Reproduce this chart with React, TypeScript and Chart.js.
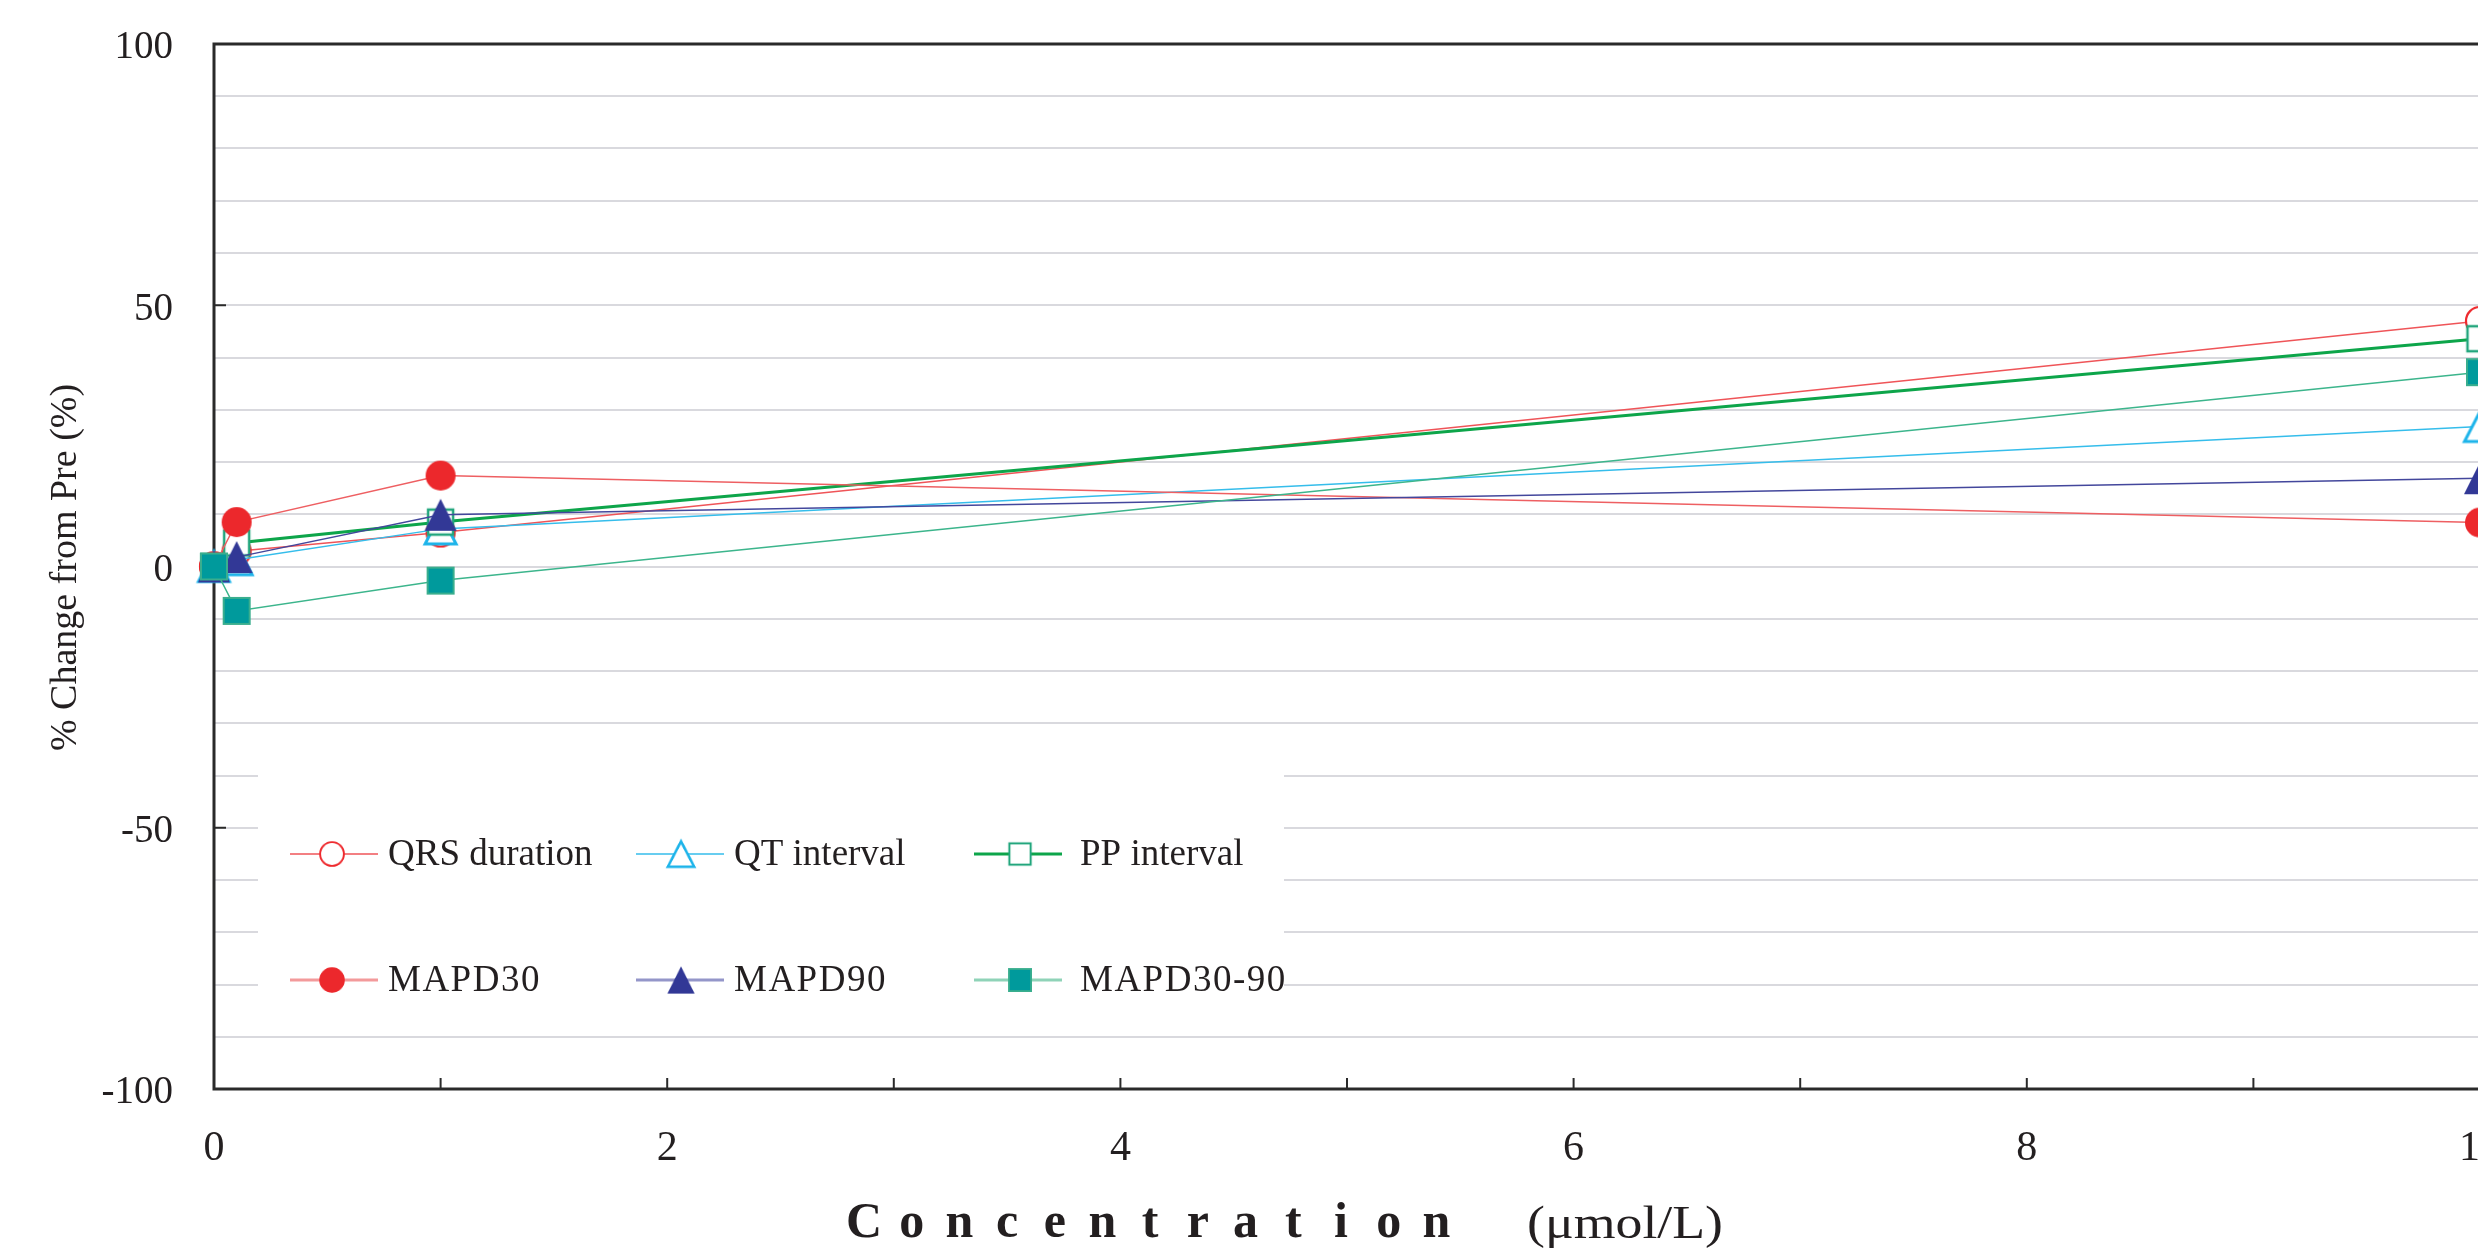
import { useEffect, useRef } from 'react';
import { Chart, registerables } from 'chart.js';

Chart.register(...registerables);

// ---------------- data ----------------
const concentrations = [0, 0.1, 1, 10];
const qrsDuration = [0, 2.9, 6.5, 47.0];
const qtInterval = [0, 1.3, 7.2, 26.8];
const ppInterval = [0, 4.5, 8.5, 43.6];
const mapd30 = [0, 8.5, 17.4, 8.4];
const mapd90 = [0, 1.8, 9.9, 16.9];
const mapd30to90 = [0, -8.5, -2.7, 37.2];

const seriesNames = ['QRS duration', 'QT interval', 'PP interval', 'MAPD30', 'MAPD90', 'MAPD30-90'];
const seriesValues = [qrsDuration, qtInterval, ppInterval, mapd30, mapd90, mapd30to90];

const xLabelValues = [0, 2, 4, 6, 8, 10];
const xMinorTickValues = [1, 2, 3, 4, 5, 6, 7, 8, 9];
const yLabelValues = [-100, -50, 0, 50, 100];

const xTitleWord = 'Concentration';
const xTitleUnit = '(\u03BCmol/L)';
const yTitle = '% Change from Pre (%)';

// ---------------- styles ----------------
const FONT = "'Liberation Serif', 'Times New Roman', serif";
const TEXT = '#231F20';
const W = 2478; // visible width
const CW = 2490; // canvas width (right part beyond the window is clipped, as in the reference)
const H = 1244;

type Style = {
  line: string; lw: number; legLine: string; legLw: number;
  shape: 'circle' | 'triangle' | 'square'; fill: string; stroke: string; sw: number; w: number; h: number;
};

const styles: Style[] = [
  { line: '#EF5458', lw: 1.5, legLine: '#EF5458', legLw: 1.6, shape: 'circle', fill: '#ffffff', stroke: '#EE2A2E', sw: 2.2, w: 28, h: 28 },
  { line: '#35BDEB', lw: 1.5, legLine: '#35BDEB', legLw: 1.6, shape: 'triangle', fill: '#ffffff', stroke: '#1DB4EA', sw: 3, w: 31, h: 30 },
  { line: '#0DA54A', lw: 3, legLine: '#0DA54A', legLw: 3, shape: 'square', fill: '#ffffff', stroke: '#23A67D', sw: 2.5, w: 25, h: 25 },
  { line: '#EE5F62', lw: 1.5, legLine: '#F39A9B', legLw: 3, shape: 'circle', fill: '#EC282C', stroke: '#EC282C', sw: 0, w: 30, h: 30 },
  { line: '#43479C', lw: 1.5, legLine: '#9496C9', legLw: 3, shape: 'triangle', fill: '#323896', stroke: '#323896', sw: 0, w: 32, h: 32 },
  { line: '#3CB58C', lw: 1.5, legLine: '#8FD3B8', legLw: 3, shape: 'square', fill: '#009A9C', stroke: '#3AAE8E', sw: 2, w: 26, h: 26 },
];

function makeMarker(s: Style): HTMLCanvasElement {
  const pad = Math.ceil(s.sw) + 2;
  const c = document.createElement('canvas');
  c.width = s.w + pad * 2;
  c.height = s.h + pad * 2;
  const g = c.getContext('2d')!;
  const cx = c.width / 2;
  const cy = c.height / 2;
  g.beginPath();
  if (s.shape === 'circle') {
    g.arc(cx, cy, s.w / 2, 0, Math.PI * 2);
  } else if (s.shape === 'square') {
    g.rect(cx - s.w / 2, cy - s.h / 2, s.w, s.h);
  } else {
    g.moveTo(cx, cy - s.h / 2);
    g.lineTo(cx + s.w / 2, cy + s.h / 2);
    g.lineTo(cx - s.w / 2, cy + s.h / 2);
    g.closePath();
  }
  g.fillStyle = s.fill;
  g.fill();
  if (s.sw > 0) {
    g.strokeStyle = s.stroke;
    g.lineWidth = s.sw;
    g.lineJoin = 'miter';
    g.stroke();
  }
  return c;
}

// legend layout (canvas px)
const legendBox = { x: 250, y: 757, w: 1026, h: 262 };
const legendRows = [846, 972];
const legendCols = [
  { l0: 282, l1: 370, m: 324, t: 380 },
  { l0: 628, l1: 716, m: 673, t: 726 },
  { l0: 966, l1: 1054, m: 1012, t: 1072 },
];

export default function App() {
  const ref = useRef<HTMLCanvasElement>(null);

  useEffect(() => {
    document.body.style.overflow = 'hidden';
    const markers = styles.map(makeMarker);

    const framePlugin = {
      id: 'frame',
      beforeDatasetsDraw(chart: any) {
        const { ctx, chartArea: a, scales } = chart;
        ctx.save();
        ctx.strokeStyle = '#2A2A2A';
        ctx.lineWidth = 3;
        ctx.strokeRect(a.left, a.top, a.right - a.left, a.bottom - a.top);
        ctx.lineWidth = 2;
        for (const v of yLabelValues) {
          const y = scales.y.getPixelForValue(v);
          ctx.beginPath();
          ctx.moveTo(a.left, y);
          ctx.lineTo(a.left + 12, y);
          ctx.stroke();
        }
        for (const v of xMinorTickValues) {
          const x = scales.x.getPixelForValue(v);
          ctx.beginPath();
          ctx.moveTo(x, a.bottom);
          ctx.lineTo(x, a.bottom - 11);
          ctx.stroke();
        }
        ctx.restore();
      },
    };

    const legendPlugin = {
      id: 'customLegend',
      afterDatasetsDraw(chart: any) {
        const { ctx } = chart;
        ctx.save();
        ctx.fillStyle = '#ffffff';
        ctx.fillRect(legendBox.x, legendBox.y, legendBox.w, legendBox.h);
        seriesNames.forEach((name, i) => {
          const row = legendRows[Math.floor(i / 3)];
          const col = legendCols[i % 3];
          const s = styles[i];
          ctx.strokeStyle = s.legLine;
          ctx.lineWidth = s.legLw;
          ctx.beginPath();
          ctx.moveTo(col.l0, row);
          ctx.lineTo(col.l1, row);
          ctx.stroke();
          const m = markers[i];
          const k = 0.85;
          ctx.drawImage(m, col.m - (m.width * k) / 2, row - (m.height * k) / 2, m.width * k, m.height * k);
          ctx.fillStyle = TEXT;
          ctx.font = `37px ${FONT}`;
          ctx.textAlign = 'left';
          ctx.textBaseline = 'middle';
          (ctx as any).letterSpacing = i >= 3 ? '1.5px' : '0px';
          ctx.fillText(name, col.t, row + 1);
        });
        (ctx as any).letterSpacing = '0px';
        ctx.restore();
      },
    };

    const titlePlugin = {
      id: 'axisTitles',
      afterDraw(chart: any) {
        const { ctx, chartArea: a } = chart;
        ctx.save();
        ctx.fillStyle = TEXT;
        // y title
        ctx.translate(58, (a.top + a.bottom) / 2 + 1);
        ctx.rotate(-Math.PI / 2);
        ctx.font = `38px ${FONT}`;
        ctx.textAlign = 'center';
        ctx.textBaseline = 'middle';
        ctx.fillText(yTitle, 0, 0);
        ctx.restore();

        // x title
        ctx.save();
        ctx.fillStyle = TEXT;
        ctx.font = `bold 50px ${FONT}`;
        ctx.textAlign = 'center';
        ctx.textBaseline = 'alphabetic';
        const start = 856;
        const step = 47.7;
        xTitleWord.split('').forEach((ch, i) => {
          ctx.fillText(ch, start + i * step, 1229);
        });
        ctx.font = `46px ${FONT}`;
        ctx.textAlign = 'left';
        const target = 196;
        const mw = ctx.measureText(xTitleUnit).width;
        ctx.translate(1519, 1230);
        ctx.scale(target / mw, 1);
        ctx.fillText(xTitleUnit, 0, 0);
        ctx.restore();
      },
    };

    const datasets = seriesNames.map((name, i) => ({
      label: name,
      data: concentrations.map((x, j) => ({ x, y: seriesValues[i][j] })),
      borderColor: styles[i].line,
      borderWidth: styles[i].lw,
      backgroundColor: styles[i].fill,
      pointStyle: markers[i],
      pointRadius: 15,
      pointHoverRadius: 15,
      tension: 0,
      clip: false as any,
      order: 6 - i,
    }));

    const chart = new Chart(ref.current!, {
      type: 'line',
      data: { datasets },
      plugins: [framePlugin, legendPlugin, titlePlugin],
      options: {
        animation: false,
        responsive: false,
        devicePixelRatio: 1,
        events: [],
        layout: { padding: { top: 36, right: 6, left: 0, bottom: 0 } },
        plugins: { legend: { display: false }, tooltip: { enabled: false } },
        scales: {
          x: {
            type: 'linear',
            min: 0,
            max: 10,
            grid: { display: false, drawTicks: false },
            border: { display: false },
            ticks: {
              stepSize: 1,
              autoSkip: false,
              maxRotation: 0,
              padding: 35,
              color: TEXT,
              font: { family: FONT, size: 42 },
              callback: (v: any) => (xLabelValues.includes(Number(v)) ? String(v) : ''),
            },
            afterFit: (scale: any) => {
              scale.height = H - 1081;
              scale.paddingLeft = 0;
              scale.paddingRight = 0;
            },
          },
          y: {
            type: 'linear',
            min: -100,
            max: 100,
            grid: { color: '#D9D9DE', lineWidth: 2, drawTicks: false },
            border: { display: false },
            ticks: {
              stepSize: 10,
              autoSkip: false,
              padding: 41,
              labelOffset: 4,
              color: TEXT,
              font: { family: FONT, size: 39 },
              callback: (v: any) => (yLabelValues.includes(Number(v)) ? String(v) : ''),
            },
            afterFit: (scale: any) => {
              scale.width = 206;
              scale.paddingTop = 0;
              scale.paddingBottom = 0;
            },
          },
        },
      } as any,
    });

    return () => chart.destroy();
  }, []);

  return (
    <div style={{ width: W, height: H, overflow: 'hidden' }}>
      <canvas ref={ref} width={CW} height={H} style={{ display: 'block' }} />
    </div>
  );
}
